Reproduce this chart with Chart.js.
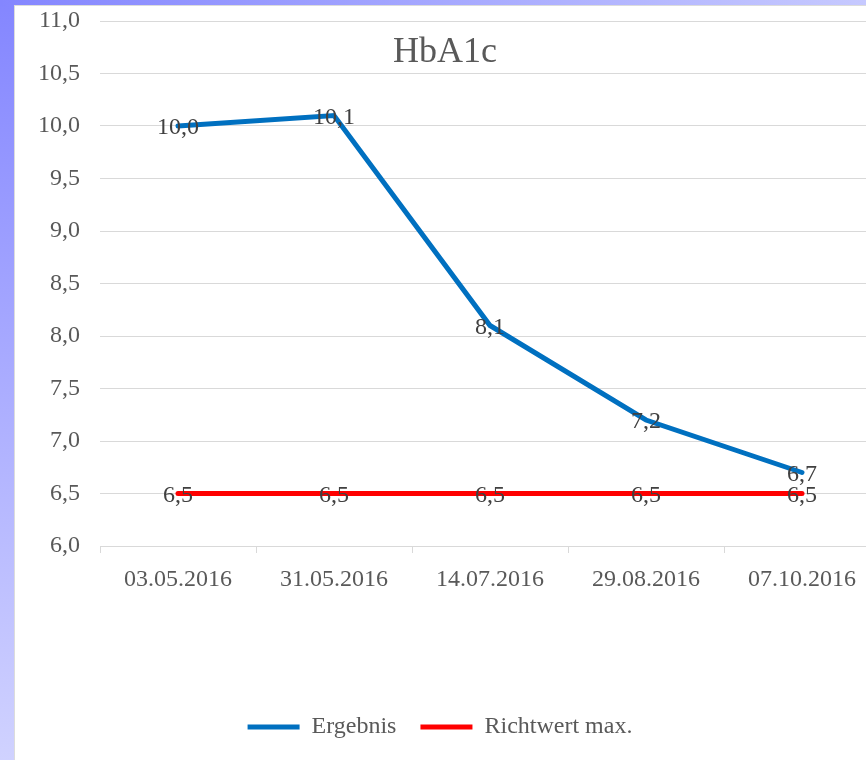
<!DOCTYPE html>
<html>
<head>
<meta charset="utf-8">
<script src="https://cdn.jsdelivr.net/npm/chart.js@4"></script>
<style>
  html, body { margin: 0; padding: 0; }
  body { width: 866px; height: 760px; overflow: hidden; position: relative;
         background: linear-gradient(to bottom, #8486ff, #d0d2ff); }
  #topStrip { position: absolute; left: 0; top: 0; width: 866px; height: 6px;
              background: linear-gradient(to right, #8486ff, #c6c9ff); }
  #panel { position: absolute; left: 14px; top: 5px; right: 0; bottom: 0; background: #fff;
           border-left: 1px solid #dcdcdc; border-top: 1px solid #dcdcdc; }
  #chart { position: absolute; left: 0; top: 0; }
</style>
</head>
<body>
<div id="topStrip"></div>
<div id="panel"></div>
<canvas id="chart" width="900" height="760"></canvas>
<script>
// chart values
const dates = ['03.05.2016', '31.05.2016', '14.07.2016', '29.08.2016', '07.10.2016'];
const ergebnis = [10.0, 10.1, 8.1, 7.2, 6.7];
const richtwert = [6.5, 6.5, 6.5, 6.5, 6.5];
const chartTitle = 'HbA1c';

Chart.defaults.font.family = "'Liberation Serif', 'Times New Roman', serif";
Chart.defaults.font.size = 24;
Chart.defaults.color = '#595959';

const fmt = v => v.toFixed(1).replace('.', ',');

// Title drawn over the plot, like the Excel overlay title
const titlePlugin = {
  id: 'overlayTitle',
  afterDraw(chart) {
    const ctx = chart.ctx;
    ctx.save();
    ctx.font = "36px 'Liberation Serif', serif";
    ctx.fillStyle = '#595959';
    ctx.textAlign = 'center';
    ctx.textBaseline = 'middle';
    ctx.fillText(chartTitle, 445, 53);
    ctx.restore();
  }
};

// Value labels centred on each point
const labelPlugin = {
  id: 'pointLabels',
  afterDatasetsDraw(chart) {
    const ctx = chart.ctx;
    ctx.save();
    ctx.font = "24px 'Liberation Serif', serif";
    ctx.fillStyle = '#404040';
    ctx.textAlign = 'center';
    ctx.textBaseline = 'middle';
    chart.data.datasets.forEach((ds, i) => {
      chart.getDatasetMeta(i).data.forEach((pt, j) => {
        ctx.fillText(fmt(ds.data[j]), pt.x, pt.y + 2);
      });
    });
    ctx.restore();
  }
};

new Chart(document.getElementById('chart'), {
  type: 'line',
  data: {
    labels: dates,
    datasets: [
      { label: 'Ergebnis', data: ergebnis, borderColor: '#0070C0', backgroundColor: '#0070C0',
        borderWidth: 5, borderCapStyle: 'round', pointRadius: 0, tension: 0 },
      { label: 'Richtwert max.', data: richtwert, borderColor: '#FF0000', backgroundColor: '#FF0000',
        borderWidth: 5, borderCapStyle: 'round', pointRadius: 0, tension: 0 }
    ]
  },
  options: {
    responsive: false,
    animation: false,
    layout: { padding: { left: 0, right: 20, top: 21, bottom: 11 } },
    plugins: {
      legend: {
        position: 'bottom',
        labels: { usePointStyle: true, pointStyle: 'line', pointStyleWidth: 52, padding: 24,
                  color: '#595959', font: { size: 24 } }
      },
      tooltip: { enabled: false }
    },
    scales: {
      x: {
        offset: true,
        grid: { offset: true, drawOnChartArea: false, drawTicks: true, tickLength: 7, color: '#d9d9d9' },
        border: { color: '#d9d9d9' },
        ticks: { padding: 12, maxRotation: 0, color: '#595959' },
        afterFit(scale) { scale.height = 145; }
      },
      y: {
        min: 6, max: 11,
        ticks: { stepSize: 0.5, padding: 20, color: '#595959', callback: v => fmt(v) },
        grid: { color: '#d9d9d9', drawTicks: false },
        border: { display: false },
        afterFit(scale) {
          scale.width = 100;
          scale.paddingTop = 0;
          scale.paddingBottom = 0;
        }
      }
    }
  },
  plugins: [titlePlugin, labelPlugin]
});
</script>
</body>
</html>
